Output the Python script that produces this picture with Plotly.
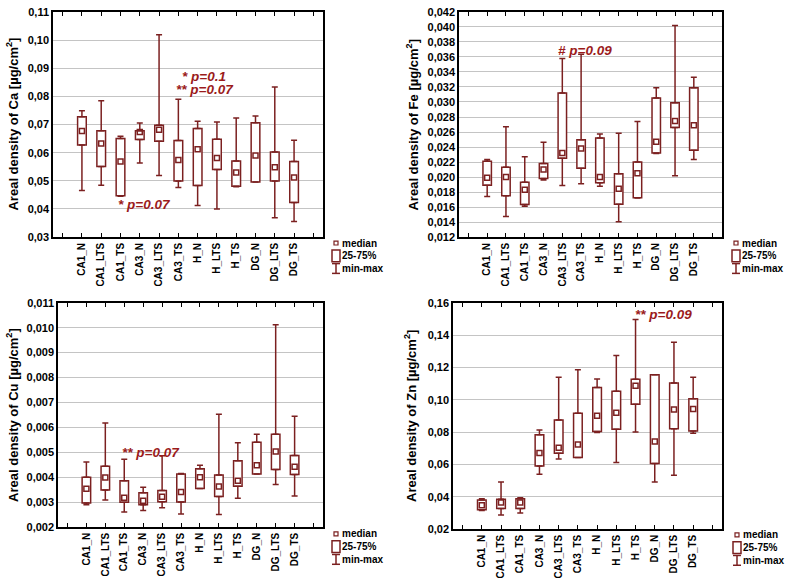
import plotly.graph_objects as go

W, H = 787, 584

categories = ["CA1_N", "CA1_LTS", "CA1_TS", "CA3_N", "CA3_LTS", "CA3_TS",
              "H_N", "H_LTS", "H_TS", "DG_N", "DG_LTS", "DG_TS"]

# Ca
ca_min = [0.0466, 0.0484, 0.0445, 0.0563, 0.0519, 0.0476, 0.0412, 0.0400, 0.0479, 0.0496, 0.0369, 0.0356]
ca_q1 = [0.0627, 0.0551, 0.0447, 0.0647, 0.0641, 0.0499, 0.0483, 0.0540, 0.0481, 0.0496, 0.0499, 0.0423]
ca_med = [0.0677, 0.0633, 0.0569, 0.0673, 0.0681, 0.0574, 0.0612, 0.0581, 0.0530, 0.0590, 0.0548, 0.0512]
ca_q3 = [0.0728, 0.0678, 0.0650, 0.0678, 0.0697, 0.0643, 0.0686, 0.0648, 0.0570, 0.0706, 0.0602, 0.0569]
ca_max = [0.0749, 0.0784, 0.0658, 0.0705, 0.1019, 0.0790, 0.0712, 0.0709, 0.0723, 0.0730, 0.0833, 0.0644]

# Fe
fe_min = [0.0174, 0.01474, 0.0161, 0.0196, 0.01887, 0.0191, 0.01878, 0.01404, 0.0172, 0.02313, 0.02017, 0.02235]
fe_q1 = [0.0189, 0.01752, 0.01635, 0.0198, 0.02252, 0.02117, 0.01926, 0.01639, 0.01726, 0.02322, 0.02661, 0.02357]
fe_med = [0.0199, 0.0200, 0.0183, 0.0210, 0.0232, 0.0238, 0.0200, 0.01843, 0.02052, 0.02470, 0.02748, 0.02691]
fe_q3 = [0.0221, 0.0213, 0.0193, 0.0218, 0.0312, 0.02496, 0.0252, 0.02043, 0.0220, 0.03052, 0.02991, 0.03191]
fe_max = [0.02235, 0.0267, 0.0227, 0.02465, 0.0358, 0.03635, 0.02574, 0.02583, 0.02739, 0.0319, 0.04017, 0.0333]

# Cu
cu_min = [0.0029, 0.00309, 0.0026, 0.00266, 0.00278, 0.00252, 0.00355, 0.0025, 0.00316, 0.00413, 0.00371, 0.00325]
cu_q1 = [0.00297, 0.00349, 0.0030, 0.0029, 0.00302, 0.00301, 0.00355, 0.00323, 0.00364, 0.00413, 0.00431, 0.00411]
cu_med = [0.00354, 0.00399, 0.00318, 0.00306, 0.00322, 0.00341, 0.0040, 0.00363, 0.00386, 0.00448, 0.00503, 0.00442]
cu_q3 = [0.0040, 0.00444, 0.00386, 0.00338, 0.00347, 0.00413, 0.00434, 0.00409, 0.00466, 0.0054, 0.00572, 0.00487]
cu_max = [0.00461, 0.00618, 0.00472, 0.0036, 0.00486, 0.00415, 0.00448, 0.00653, 0.00538, 0.00572, 0.01012, 0.00645]

# Zn
zn_min = [0.0315, 0.0287, 0.0299, 0.0539, 0.0634, 0.0642, 0.0798, 0.0612, 0.0800, 0.0491, 0.0533, 0.0792]
zn_q1 = [0.0319, 0.0327, 0.0327, 0.0590, 0.0669, 0.0642, 0.0804, 0.0818, 0.0972, 0.0606, 0.0820, 0.0806]
zn_med = [0.0347, 0.0364, 0.0364, 0.0671, 0.0703, 0.0723, 0.0901, 0.0919, 0.1087, 0.0741, 0.0939, 0.0943]
zn_q3 = [0.0380, 0.0384, 0.0388, 0.0784, 0.0875, 0.0917, 0.1075, 0.1053, 0.1127, 0.1154, 0.1103, 0.1006]
zn_max = [0.0388, 0.0491, 0.0394, 0.0812, 0.1139, 0.1186, 0.1129, 0.1273, 0.1497, 0.1154, 0.1356, 0.1139]

LINE = "#7b2020"
TXT_RED = "#9b1b1b"
FONT = "Liberation Sans"


def px(x):
    return x / W


def py(y):
    return 1 - y / H


panels = [
    dict(name="Ca", mn=ca_min, q1=ca_q1, med=ca_med, q3=ca_q3, mx=ca_max,
         xdom=(53, 323), ydom=(6, 236), yrange=(0.03, 0.11), dtick=0.01, fmt=".2f",
         title="Areal density of Ca [µg/cm<sup>2</sup>]", tx=12,
         leg=(336, 242)),
    dict(name="Fe", mn=fe_min, q1=fe_q1, med=fe_med, q3=fe_q3, mx=fe_max,
         xdom=(459, 722), ydom=(6, 236), yrange=(0.012, 0.042), dtick=0.002, fmt=".3f",
         title="Areal density of Fe [µg/cm<sup>2</sup>]", tx=412,
         leg=(736, 242)),
    dict(name="Cu", mn=cu_min, q1=cu_q1, med=cu_med, q3=cu_q3, mx=cu_max,
         xdom=(58, 323), ydom=(303, 532), yrange=(0.002, 0.011), dtick=0.001, fmt=".3f",
         title="Areal density of Cu [µg/cm<sup>2</sup>]", tx=12,
         leg=(336, 539)),
    dict(name="Zn", mn=zn_min, q1=zn_q1, med=zn_med, q3=zn_q3, mx=zn_max,
         xdom=(453, 722), ydom=(303, 534), yrange=(0.02, 0.16), dtick=0.02, fmt=".2f",
         title="Areal density of Zn [µg/cm<sup>2</sup>]", tx=410,
         leg=(737, 540)),
]

# p-value annotations: (panel index, x position, y value, text)
notes = [
    (0, 7.33, 0.0869, "* p=0.1"),
    (0, 7.38, 0.0824, "** p=0.07"),
    (0, 4.22, 0.0416, "* p=0.07"),
    (1, 6.21, 0.0368, "# p=0.09"),
    (2, 4.41, 0.00499, "** p=0.07"),
    (3, 10.43, 0.1527, "** p=0.09"),
]

xpos = list(range(1, len(categories) + 1))

fig = go.Figure()
annotations = []
shapes = []

for i, p in enumerate(panels):
    n = i + 1
    xa = "x" if n == 1 else f"x{n}"
    ya = "y" if n == 1 else f"y{n}"
    heights = [b - a for a, b in zip(p["q1"], p["q3"])]
    fig.add_trace(go.Bar(x=xpos, y=heights, base=p["q1"], width=0.45,
                         marker=dict(color="white", line=dict(color=LINE, width=1.5)),
                         xaxis=xa, yaxis=ya, showlegend=False, hoverinfo="skip"))
    # upper whiskers
    fig.add_trace(go.Scatter(x=xpos, y=p["q3"], mode="markers",
                             marker=dict(size=1, color="rgba(0,0,0,0)"),
                             error_y=dict(type="data", symmetric=False,
                                          array=[b - a for a, b in zip(p["q3"], p["mx"])],
                                          arrayminus=[0] * len(xpos),
                                          color=LINE, thickness=1.5, width=3),
                             xaxis=xa, yaxis=ya, showlegend=False, hoverinfo="skip"))
    # lower whiskers
    fig.add_trace(go.Scatter(x=xpos, y=p["q1"], mode="markers",
                             marker=dict(size=1, color="rgba(0,0,0,0)"),
                             error_y=dict(type="data", symmetric=False,
                                          array=[0] * len(xpos),
                                          arrayminus=[a - b for a, b in zip(p["q1"], p["mn"])],
                                          color=LINE, thickness=1.5, width=3),
                             xaxis=xa, yaxis=ya, showlegend=False, hoverinfo="skip"))
    # medians
    fig.add_trace(go.Scatter(x=xpos, y=p["med"], mode="markers",
                             marker=dict(symbol="square-open", size=5, color=LINE,
                                         line=dict(width=1.5, color=LINE)),
                             xaxis=xa, yaxis=ya, showlegend=False, hoverinfo="skip"))

    xk = "xaxis" if n == 1 else f"xaxis{n}"
    yk = "yaxis" if n == 1 else f"yaxis{n}"
    x0, x1 = p["xdom"]
    y0, y1 = p["ydom"]
    fig.layout[xk] = dict(domain=[px(x0), px(x1)], anchor=ya, range=[-0.5, 13.5],
                          tickmode="array", tickvals=xpos, ticktext=categories,
                          tickangle=-90, ticks="inside", ticklen=4, tickwidth=1,
                          tickcolor="black", showline=True, linecolor="black",
                          linewidth=1.5, mirror="ticks", showgrid=False, zeroline=False,
                          minor=dict(tick0=0, dtick=1, ticks="inside", ticklen=4,
                                     tickwidth=1, tickcolor="black", showgrid=False),
                          tickfont=dict(family=FONT, size=10, color="black", weight="bold"))
    fig.layout[yk] = dict(domain=[py(y1), py(y0)], anchor=xa, range=list(p["yrange"]),
                          tick0=p["yrange"][0], dtick=p["dtick"], tickformat=p["fmt"],
                          showline=True, linecolor="black", linewidth=1.5, mirror=True,
                          showgrid=True, gridcolor="#c4c4c4", gridwidth=1, zeroline=False,
                          ticks="", tickfont=dict(family=FONT, size=11, color="black", weight="bold"))

    # y title
    annotations.append(dict(x=px(p["tx"]), y=py((y0 + y1) / 2), xref="paper", yref="paper",
                            text=p["title"], textangle=-90, showarrow=False,
                            xanchor="center", yanchor="middle",
                            font=dict(family=FONT, size=13, color="black", weight="bold")))

    # legend
    lx, ly = p["leg"]
    for k, label in enumerate(["median", "25-75%", "min-max"]):
        annotations.append(dict(x=px(lx + 5), y=py(ly + 13 * k), xref="paper", yref="paper",
                                text=label, showarrow=False, xanchor="left", yanchor="middle",
                                borderpad=0,
                                font=dict(family=FONT, size=10, color="black", weight="bold")))
    shapes += [
        dict(type="rect", xref="paper", yref="paper", x0=px(lx - 2), x1=px(lx + 2),
             y0=py(ly - 2), y1=py(ly + 2), line=dict(color=LINE, width=1.2)),
        dict(type="rect", xref="paper", yref="paper", x0=px(lx - 4), x1=px(lx + 4),
             y0=py(ly + 7), y1=py(ly + 19), line=dict(color=LINE, width=1.5)),
        dict(type="line", xref="paper", yref="paper", x0=px(lx), x1=px(lx),
             y0=py(ly + 21), y1=py(ly + 31), line=dict(color=LINE, width=1.5)),
        dict(type="line", xref="paper", yref="paper", x0=px(lx - 4), x1=px(lx + 4),
             y0=py(ly + 21), y1=py(ly + 21), line=dict(color=LINE, width=1.5)),
        dict(type="line", xref="paper", yref="paper", x0=px(lx - 4), x1=px(lx + 4),
             y0=py(ly + 31), y1=py(ly + 31), line=dict(color=LINE, width=1.5)),
    ]

for (pi, xv, yv, txt) in notes:
    n = pi + 1
    annotations.append(dict(x=xv, y=yv, xref="x" if n == 1 else f"x{n}",
                            yref="y" if n == 1 else f"y{n}", text=txt, showarrow=False,
                            xanchor="center", yanchor="middle", borderpad=0,
                            font=dict(family=FONT, size=13.5, color=TXT_RED,
                                      weight="bold", style="italic")))

fig.update_layout(width=W, height=H, autosize=False,
                  margin=dict(l=0, r=0, t=0, b=0),
                  paper_bgcolor="white", plot_bgcolor="white",
                  separators=", ", showlegend=False,
                  annotations=annotations, shapes=shapes,
                  barmode="overlay")

fig.write_html("out.html", config={"displayModeBar": False},
               post_script="document.body.style.margin='0';document.body.style.padding='0';"
                           "document.body.style.overflow='hidden';")
